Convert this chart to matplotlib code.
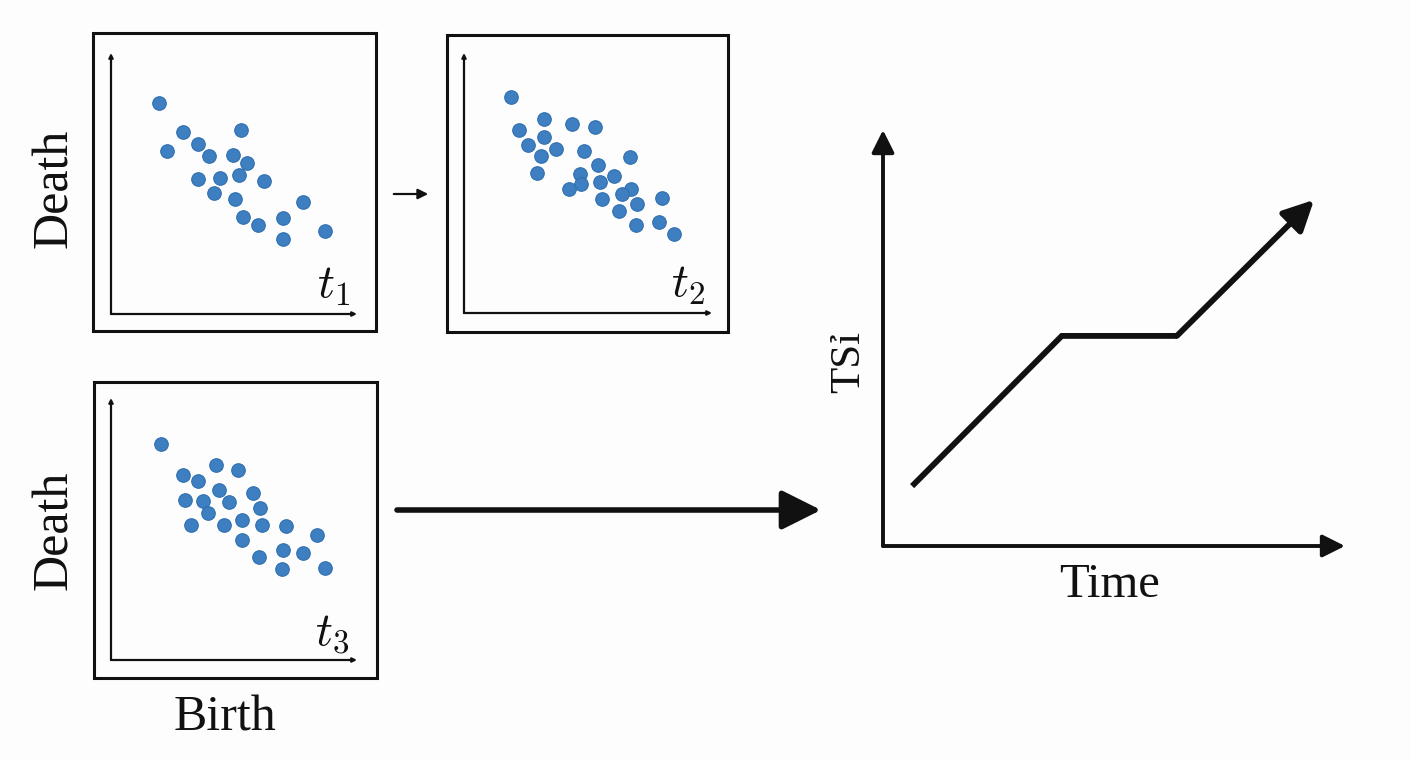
import numpy as np
import matplotlib.pyplot as plt
from matplotlib.patches import Rectangle, FancyArrowPatch

plt.rcParams['mathtext.fontset'] = 'cm'

W, H = 1411, 761

# birth / death values (0-100 scale) for the three snapshots
birth_t1 = [19.6, 29.4, 22.9, 52.7, 35.5, 39.8, 49.7, 55.4, 35.2, 44.4,
            52.0, 62.1, 41.9, 50.5, 77.9, 53.8, 59.9, 70.0, 70.0, 86.9]
death_t1 = [81.0, 69.6, 62.6, 70.5, 65.0, 60.5, 60.8, 57.9, 51.6, 52.1,
            53.4, 50.8, 46.5, 43.9, 42.9, 37.0, 34.0, 36.7, 28.7, 31.7]

birth_t2 = [18.9, 32.3, 43.5, 52.7, 22.0, 32.3, 26.0, 37.2, 30.9, 48.5,
            66.9, 29.3, 53.9, 46.8, 47.3, 42.2, 55.0, 60.6, 67.5, 63.7,
            55.8, 69.7, 79.8, 62.7, 69.5, 78.6, 84.8]
death_t2 = [83.0, 74.6, 72.6, 71.7, 70.3, 67.6, 64.6, 63.0, 60.5, 62.2,
            59.9, 54.0, 57.0, 53.5, 49.6, 47.7, 50.3, 52.6, 47.8, 45.7,
            43.8, 42.0, 44.3, 39.1, 33.8, 34.9, 30.3]

birth_t3 = [20.5, 29.3, 42.5, 51.8, 35.5, 44.1, 57.8, 30.2, 37.3, 47.9,
            60.6, 39.4, 32.7, 46.1, 53.3, 61.5, 71.1, 83.7, 53.2, 69.9,
            77.9, 60.1, 69.6, 86.8]
death_t3 = [82.3, 70.5, 74.3, 72.4, 68.3, 65.0, 63.7, 61.2, 60.8, 60.4,
            57.9, 56.0, 51.6, 51.5, 53.3, 51.5, 51.0, 47.7, 45.8, 42.0,
            40.7, 39.4, 34.7, 35.2]

# TSI curve (time, tsi) on 0-10 axes
tsi_time = [0.63, 3.87, 6.36, 9.33]
tsi_vals = [1.44, 5.05, 5.05, 8.32]

serif = ['Liberation Serif', 'DejaVu Serif']
dot_color = '#3d7fc0'
ink = '#111111'
bg = '#fdfdfd'


def fx(px):
    return px / W


def fy(py):
    return 1 - py / H


def pix_axes(left, top, right, bottom):
    return fig.add_axes([fx(left), fy(bottom), (right - left) / W, (bottom - top) / H])


fig = plt.figure(figsize=(W / 100, H / 100), dpi=100)
fig.patch.set_facecolor(bg)


def panel(box, inner, birth, death, label):
    bl, bt, br, bb = box
    fig.add_artist(Rectangle((fx(bl), fy(bb)), (br - bl) / W, (bb - bt) / H,
                             transform=fig.transFigure, fill=False,
                             lw=2.2, ec=ink))
    ax = pix_axes(*inner)
    ax.set_xlim(0, 100)
    ax.set_ylim(0, 100)
    ax.axis('off')
    ax.scatter(birth, death, s=95, color=dot_color, edgecolors='#2f6fae',
               linewidths=0.8, zorder=3)
    for end in [(1, 0), (0, 1)]:
        ax.annotate('', xy=end, xytext=(0, 0), xycoords='axes fraction',
                    arrowprops=dict(arrowstyle='-|>', lw=1.6, color=ink,
                                    mutation_scale=6, shrinkA=0, shrinkB=0))
    ax.text(97, 6.0, label, ha='right', va='baseline', fontsize=34, color=ink)
    return ax


panel((93, 33, 376, 331), (111, 53, 357, 314), birth_t1, death_t1, r'$t_1$')
panel((447, 35, 728, 332), (464, 53, 712, 313), birth_t2, death_t2, r'$t_2$')
panel((94, 382, 377, 678), (111, 398, 357, 660), birth_t3, death_t3, r'$t_3$')

fig.text(fx(55), fy(188), 'Death', rotation=90, ha='center', va='center',
         fontsize=36, family=serif, color=ink)
fig.text(fx(55), fy(530), 'Death', rotation=90, ha='center', va='center',
         fontsize=36, family=serif, color=ink)
fig.text(fx(225), fy(718), 'Birth', ha='center', va='center',
         fontsize=36, family=serif, color=ink)

# arrows between panels
fig.add_artist(FancyArrowPatch(
    (fx(391), fy(194)), (fx(431), fy(194)), transform=fig.transFigure,
    arrowstyle='-|>', mutation_scale=15, lw=1.6, color=ink))
fig.add_artist(FancyArrowPatch(
    (fx(397), fy(510)), (fx(821), fy(510)), transform=fig.transFigure,
    arrowstyle='-|>', mutation_scale=60, lw=4, color=ink,
    shrinkA=0, shrinkB=0))

# TSI over time
ax = pix_axes(883, 130, 1345, 546)
ax.set_xlim(0, 10)
ax.set_ylim(0, 10)
ax.axis('off')
for end in [(1, 0), (0, 1)]:
    ax.annotate('', xy=end, xytext=(0, 0), xycoords='axes fraction',
                arrowprops=dict(arrowstyle='-|>', lw=2.8, color=ink,
                                mutation_scale=34, shrinkA=0, shrinkB=0))
ax.plot(tsi_time[:3], tsi_vals[:3], color=ink, lw=4.2,
        solid_joinstyle='miter', solid_capstyle='butt')
ax.annotate('', xy=(tsi_time[3], tsi_vals[3]), xytext=(tsi_time[2], tsi_vals[2]),
            arrowprops=dict(arrowstyle='-|>', lw=4.2, color=ink,
                            mutation_scale=46, shrinkA=0, shrinkB=0))
fig.text(fx(849), fy(362), 'TSỉ', rotation=90, ha='center', va='center',
         fontsize=31, family=serif, color=ink)
fig.text(fx(1110), fy(585), 'Time', ha='center', va='center',
         fontsize=35, family=serif, color=ink)

fig.savefig('out.png', dpi=100, facecolor=bg)
